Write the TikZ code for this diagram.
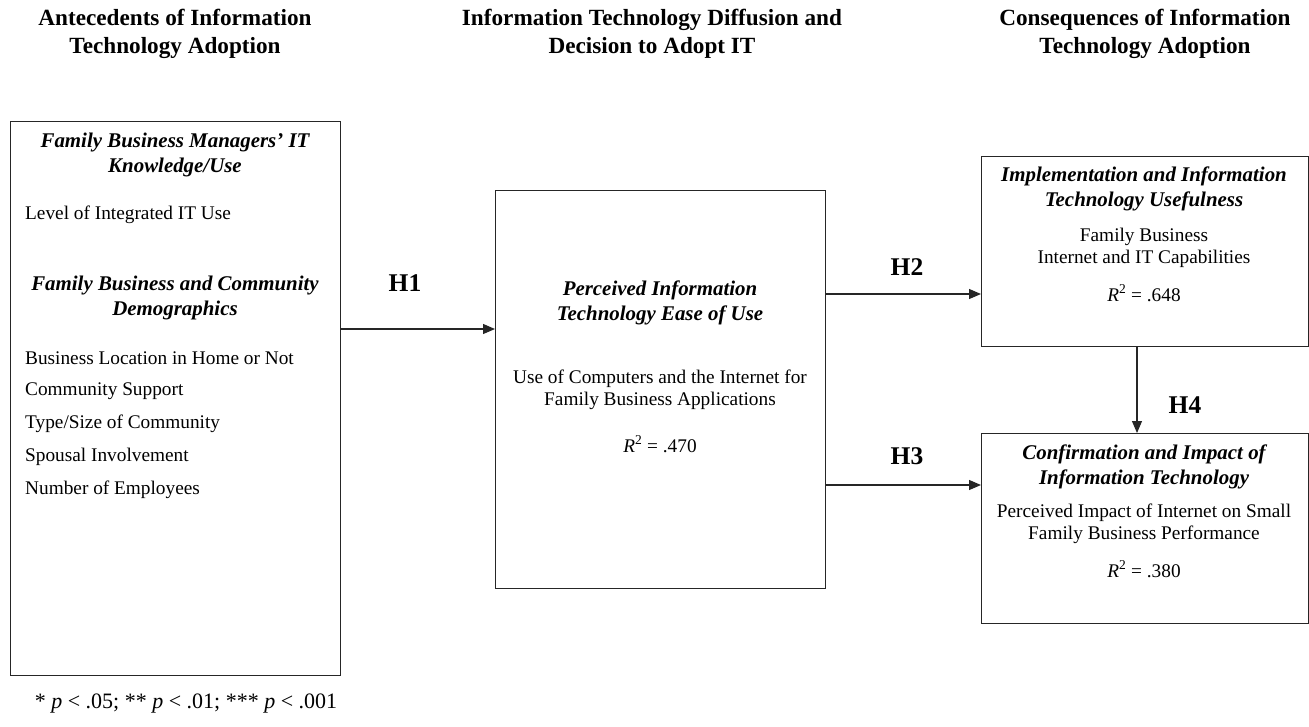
\documentclass[tikz,border=0pt]{standalone}
\usepackage{fontspec}
\setmainfont{Liberation Serif}
\usetikzlibrary{arrows.meta,scopes}

\begin{document}
\begin{tikzpicture}[
    x=1pt,y=-1pt,
    box/.style={draw=black!85,line width=1.2pt,anchor=north west,inner sep=0pt},
    head/.style={font=\fontsize{23.2}{28}\selectfont\bfseries,align=center,inner sep=0pt},
    cat/.style={font=\fontsize{20.9}{25}\selectfont\bfseries\itshape,align=center,inner sep=0pt},
    txt/.style={font=\fontsize{19.3}{22}\selectfont,align=center,inner sep=0pt},
    item/.style={font=\fontsize{19.3}{22}\selectfont,anchor=west,inner sep=0pt},
    hyp/.style={font=\fontsize{25.5}{28}\selectfont\bfseries,inner sep=0pt},
    link/.style={-{Triangle[length=12pt,width=10pt]},line width=1.2pt,draw=black!85},
]
    \useasboundingbox (0,0) rectangle (1309,726);

    % column headings
    \node[head] (hant) at (175,34) {Antecedents of Information\\Technology Adoption};
    \node[head] (hdif) at (652,34) {Information Technology Diffusion and\\Decision to Adopt IT};
    \node[head] (hcon) at (1145,34) {Consequences of Information\\Technology Adoption};

    % boxes
    \node[box,minimum width=330pt,minimum height=554pt] (ante) at (10,121) {};
    \node[box,minimum width=330pt,minimum height=398pt] (ease) at (495,190) {};
    \node[box,minimum width=327pt,minimum height=190pt] (usef) at (981,156) {};
    \node[box,minimum width=327pt,minimum height=190pt] (conf) at (981,433) {};

    % antecedents
    \node[cat] (know) at (175,155) {Family Business Managers' IT\\Knowledge/Use};
    \node[item] (lvl) at (25,215) {Level of Integrated IT Use};
    \node[cat] (demo) at (175,298) {Family Business and Community\\Demographics};
    \foreach \t [count=\i from 0] in {Business Location in Home or Not,Community Support,
        Type/Size of Community,Spousal Involvement,Number of Employees}
        \node[item] (d\i) at (25,358+33*\i) {\t};

    % ease of use
    \node[cat] (peou) at (660,303) {Perceived Information\\Technology Ease of Use};
    \node[txt] (appl) at (660,390) {Use of Computers and the Internet for\\Family Business Applications};
    \node[txt] (r1) at (660,444) {\textit{R}\textsuperscript{2} = .470};

    % usefulness
    \node[cat] (impl) at (1144,189) {Implementation and Information\\Technology Usefulness};
    \node[txt] (capa) at (1144,248) {Family Business\\Internet and IT Capabilities};
    \node[txt] (r2) at (1144,293) {\textit{R}\textsuperscript{2} = .648};

    % confirmation
    \node[cat] (cimp) at (1144,467) {Confirmation and Impact of\\Information Technology};
    \node[txt] (perf) at (1144,524) {Perceived Impact of Internet on Small\\Family Business Performance};
    \node[txt] (r3) at (1144,569) {\textit{R}\textsuperscript{2} = .380};

    % hypotheses
    \coordinate (a1) at (0,329);
    \coordinate (a2) at (0,294);
    \coordinate (a3) at (0,485);
    \coordinate (a4) at (1137,0);
    {[link]
        \draw (ante.east |- a1) -- (ease.west |- a1);
        \draw (ease.east |- a2) -- (usef.west |- a2);
        \draw (ease.east |- a3) -- (conf.west |- a3);
        \draw (usef.south -| a4) -- (conf.north -| a4);
    }
    \node[hyp] (h1) at (405,283) {H1};
    \node[hyp] (h2) at (907,267) {H2};
    \node[hyp] (h3) at (907,456) {H3};
    \node[hyp] (h4) at (1185,405) {H4};

    \node[txt,font=\fontsize{22}{24}\selectfont] (note) at (186,704) {* \textit{p} < .05; ** \textit{p} < .01; *** \textit{p} < .001};
\end{tikzpicture}
\end{document}
